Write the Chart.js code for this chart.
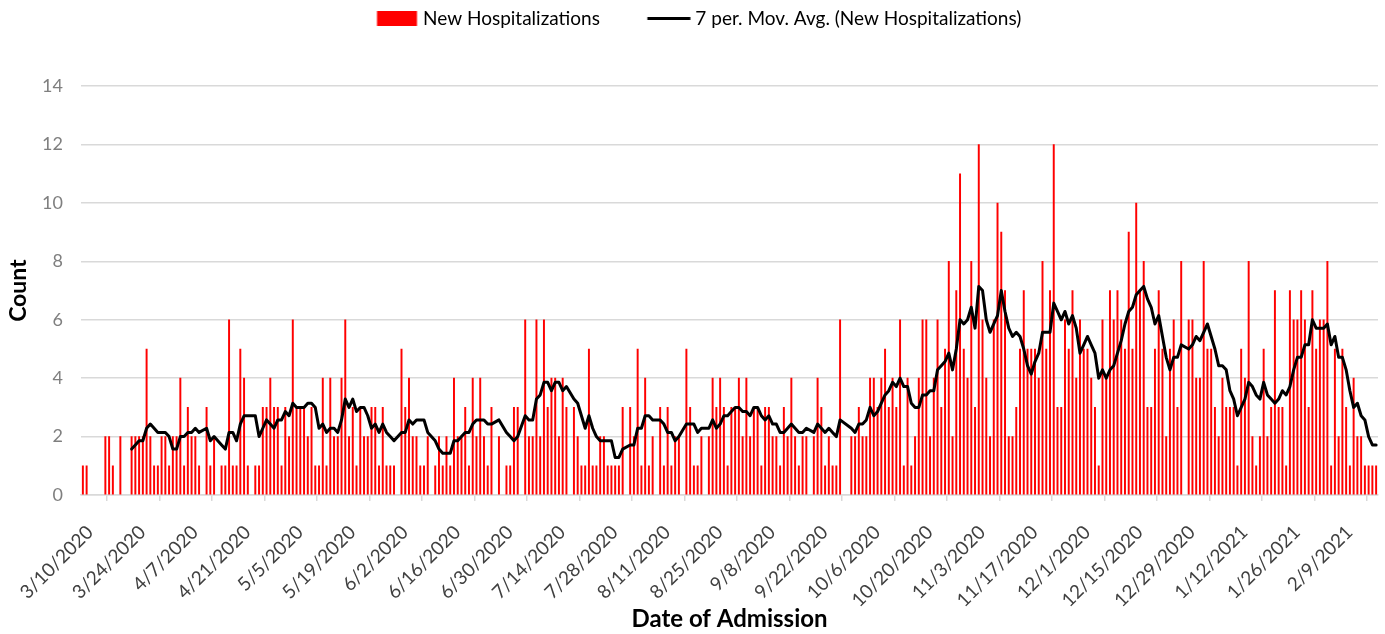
<!DOCTYPE html>
<html>
<head>
<meta charset="utf-8">
<title>New Hospitalizations</title>
<script src="https://cdn.jsdelivr.net/npm/chart.js@4.4.1/dist/chart.umd.min.js"></script>
<style>
  html, body { margin: 0; padding: 0; background: #fff; }
  #chart { display: block; }
</style>
</head>
<body>
<canvas id="chart" width="1385" height="634"></canvas>
<script>
// one tick label every 14 days, day 0 = 3/10/2020
const tickLabels = [
  '3/10/2020', '3/24/2020', '4/7/2020', '4/21/2020', '5/5/2020', '5/19/2020',
  '6/2/2020', '6/16/2020', '6/30/2020', '7/14/2020', '7/28/2020', '8/11/2020',
  '8/25/2020', '9/8/2020', '9/22/2020', '10/6/2020', '10/20/2020', '11/3/2020',
  '11/17/2020', '12/1/2020', '12/15/2020', '12/29/2020', '1/12/2021', '1/26/2021',
  '2/9/2021'
];
const dayStep = 14;
const totalDays = 346;

// new hospitalizations per day (0 = no record that day), rows of 14 days
const newHospitalizations = [
  1, 1, 0, 0, 0, 0, 2, 2, 1, 0, 2, 0, 0, 2,
  2, 2, 2, 5, 2, 1, 1, 2, 2, 1, 2, 2, 4, 1,
  3, 2, 2, 1, 0, 3, 1, 2, 0, 1, 1, 6, 1, 1,
  5, 4, 1, 0, 1, 1, 3, 3, 4, 3, 3, 1, 3, 2,
  6, 3, 3, 3, 2, 3, 1, 1, 4, 1, 4, 2, 2, 4,
  6, 2, 3, 1, 3, 2, 2, 3, 3, 1, 3, 1, 1, 1,
  0, 5, 3, 4, 2, 2, 1, 1, 2, 0, 1, 2, 1, 2,
  1, 4, 2, 2, 3, 1, 4, 2, 4, 2, 1, 3, 0, 2,
  0, 1, 1, 3, 3, 0, 6, 2, 2, 6, 2, 6, 3, 4,
  4, 2, 4, 3, 0, 3, 2, 1, 1, 5, 1, 1, 2, 2,
  1, 1, 1, 1, 3, 0, 3, 2, 5, 1, 4, 1, 2, 0,
  3, 1, 3, 1, 2, 2, 0, 5, 3, 1, 1, 2, 0, 2,
  4, 3, 4, 3, 1, 3, 3, 4, 2, 4, 2, 3, 3, 1,
  3, 3, 2, 2, 1, 3, 2, 4, 2, 1, 2, 2, 0, 2,
  4, 3, 1, 2, 1, 1, 6, 0, 0, 2, 2, 3, 2, 2,
  4, 4, 3, 4, 5, 3, 4, 3, 6, 1, 4, 1, 2, 4,
  6, 6, 2, 4, 6, 3, 5, 8, 2, 7, 11, 5, 4, 8,
  3, 12, 6, 4, 2, 6, 10, 9, 7, 2, 2, 3, 5, 7,
  5, 5, 5, 4, 8, 5, 7, 12, 3, 3, 6, 5, 7, 4,
  6, 5, 5, 4, 3, 1, 6, 4, 7, 6, 7, 6, 5, 9,
  5, 10, 7, 8, 3, 3, 5, 7, 5, 2, 5, 6, 3, 8,
  0, 6, 6, 4, 4, 8, 5, 5, 3, 2, 4, 3, 3, 3,
  1, 5, 4, 8, 2, 1, 2, 5, 2, 3, 7, 3, 3, 1,
  7, 6, 6, 7, 6, 3, 7, 5, 6, 6, 8, 1, 5, 2,
  5, 3, 1, 4, 2, 2, 1, 1, 1, 1
];

const movAvgPeriod = 7;
const fontFamily = 'Lato, "Open Sans", sans-serif';
const legendFontSize = 19;
const legendBoxWidth = 78;
const legendTextStart = 423; // where the first legend text starts

// bars sit in the middle of their day
const barPoints = [];
newHospitalizations.forEach((v, d) => {
  if (v > 0) barPoints.push({ x: d + 0.5, y: v });
});

// the trendline is Excel's 7 period moving average over the listed records
const avgPoints = [];
for (let i = movAvgPeriod - 1; i < barPoints.length; i++) {
  let sum = 0;
  for (let j = i - movAvgPeriod + 1; j <= i; j++) sum += barPoints[j].y;
  avgPoints.push({ x: barPoints[i].x, y: sum / movAvgPeriod });
}

// legend swatches, a bit wider than the box so they can sit close to the text
function legendSwatch(kind) {
  const c = document.createElement('canvas');
  c.width = legendBoxWidth + 10;
  c.height = legendFontSize;
  const g = c.getContext('2d');
  if (kind === 'bar') {
    g.fillStyle = '#ff0000';
    g.fillRect(c.width - 41.5, 2, 40, 15);
  } else {
    g.fillStyle = '#000000';
    g.fillRect(c.width - 43.5, 8, 43, 3);
  }
  return c;
}

// slide the centred legend so its first text lands where the original has it
const legendShift = {
  id: 'legendShift',
  afterLayout(chart) {
    const lg = chart.legend;
    if (!lg || !lg.lineWidths) return;
    const pad = lg.options.labels.padding;
    const cursor = (lg.left + pad + lg.right - lg.lineWidths[0]) / 2;
    const shift = legendTextStart - (cursor + legendBoxWidth + legendFontSize / 2);
    lg.left += shift;
    lg.right += shift;
  }
};

const ctx = document.getElementById('chart').getContext('2d');
new Chart(ctx, {
  type: 'bar',
  data: {
    datasets: [
      {
        type: 'bar',
        label: 'New Hospitalizations',
        data: barPoints,
        backgroundColor: '#ff0000',
        borderWidth: 0,
        barThickness: 1.3,
        order: 2
      },
      {
        type: 'line',
        label: '7 per. Mov. Avg. (New Hospitalizations)',
        data: avgPoints,
        borderColor: '#000000',
        borderWidth: 3,
        borderJoinStyle: 'round',
        borderCapStyle: 'round',
        pointRadius: 0,
        tension: 0,
        fill: false,
        order: 1
      }
    ]
  },
  plugins: [legendShift],
  options: {
    responsive: false,
    animation: false,
    devicePixelRatio: 1,
    layout: { padding: { top: 1, right: 7, left: 0, bottom: 0 } },
    plugins: {
      tooltip: { enabled: false },
      legend: {
        position: 'top',
        weight: 3000,
        labels: {
          usePointStyle: true,
          pointStyleWidth: legendBoxWidth,
          padding: 8,
          color: '#1a1a1a',
          font: { family: fontFamily, size: legendFontSize },
          generateLabels: () => [
            { text: 'New Hospitalizations', pointStyle: legendSwatch('bar'), datasetIndex: 0, lineWidth: 0 },
            { text: '7 per. Mov. Avg. (New Hospitalizations)', pointStyle: legendSwatch('line'), datasetIndex: 1, lineWidth: 0 }
          ]
        }
      },
      // empty title used as spacing between the legend and the plot
      title: {
        display: true,
        text: '',
        font: { size: 1 },
        padding: { top: 0, bottom: 47 }
      }
    },
    scales: {
      x: {
        type: 'linear',
        min: 0,
        max: totalDays,
        offset: false,
        afterBuildTicks: (scale) => {
          scale.ticks = tickLabels.map((_, i) => ({ value: i * dayStep }));
        },
        afterFit: (scale) => {
          scale.height = 139;
          // the slanted labels fit inside the y axis area, no extra side padding
          scale.paddingLeft = 0;
          scale.paddingRight = 0;
        },
        ticks: {
          autoSkip: false,
          minRotation: 45,
          maxRotation: 45,
          padding: 20,
          labelOffset: 9,
          color: '#404040',
          font: { family: fontFamily, size: 19 },
          callback: (value, index) => tickLabels[index]
        },
        grid: { drawOnChartArea: false, drawTicks: true, tickLength: 6, color: '#d9d9d9', lineWidth: 1.5 },
        border: { display: true, color: '#d9d9d9', width: 1.5 },
        title: {
          display: true,
          text: 'Date of Admission',
          color: '#000000',
          font: { family: fontFamily, size: 24, weight: 'bold' },
          padding: { top: 0, bottom: 0 }
        }
      },
      y: {
        min: 0,
        max: 14,
        afterFit: (scale) => { scale.width = 81; },
        ticks: {
          stepSize: 2,
          padding: 18,
          color: '#7f7f7f',
          font: { family: fontFamily, size: 18 }
        },
        grid: { color: '#d9d9d9', lineWidth: 1.5, drawTicks: false },
        border: { display: false },
        title: {
          display: true,
          text: 'Count',
          color: '#000000',
          font: { family: fontFamily, size: 23, weight: 'bold' },
          padding: { top: 5, bottom: 0 }
        }
      }
    }
  }
});
</script>
</body>
</html>
